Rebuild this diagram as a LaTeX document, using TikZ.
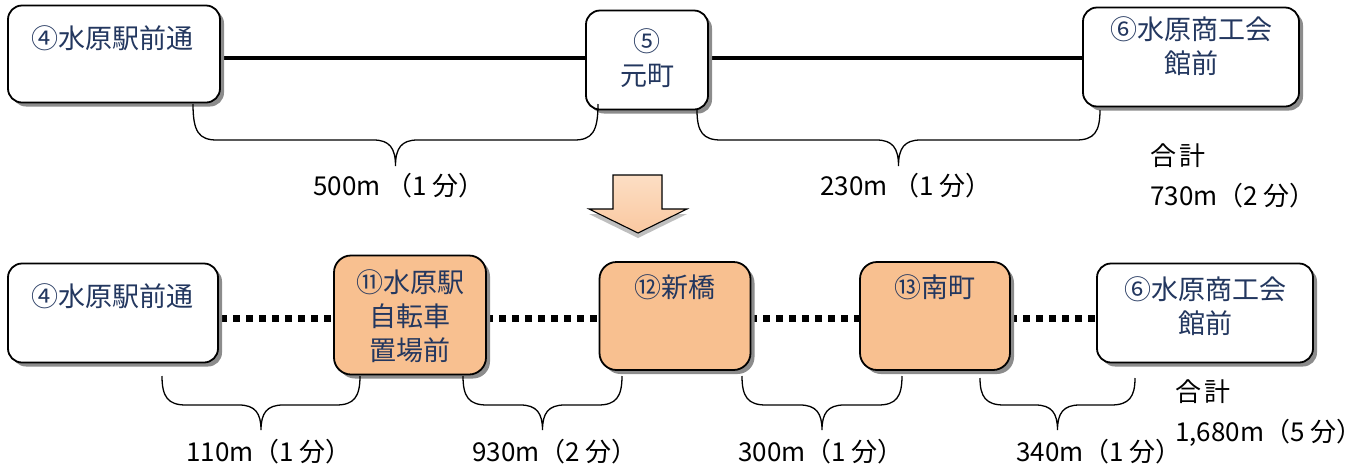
\documentclass[tikz,border=0pt]{standalone}
\usepackage{fontspec}
\setmainfont{Noto Sans CJK JP}
\usetikzlibrary{shadows}
\definecolor{navy}{RGB}{35,55,95}
\definecolor{peach}{RGB}{248,192,144}
\definecolor{arrowtop}{RGB}{252,222,196}
\definecolor{arrowbot}{RGB}{250,200,160}
\tikzset{
  stn/.style={draw=black, line width=1.8pt, rounded corners=14pt, fill=white,
    drop shadow={shadow xshift=4pt, shadow yshift=-4pt, fill=black!45, opacity=1}},
  orng/.style={stn, fill=peach, rounded corners=17pt},
  btxt/.style={text=navy, font=\fontsize{27}{34}\selectfont, align=center, inner sep=0pt},
  ltxt/.style={text=black, font=\fontsize{26}{30}\selectfont, inner sep=0pt, anchor=west},
  brc/.style={line width=1.3pt},
  solidln/.style={line width=3.5pt},
  dotln/.style={line width=7pt, dash pattern=on 7pt off 6pt}
}
\newcommand{\brc}[5]{% x1 x2 ytop yh ytip
  \pgfmathsetmacro{\xm}{(#1+#2)/2}
  \draw[brc] (#1,-#3) .. controls (#1,-#4+8) and (#1+6,-#4) .. (#1+24,-#4)
    -- (\xm-22,-#4) .. controls (\xm-6,-#4) and (\xm,-#4-8) .. (\xm,-#5)
    .. controls (\xm,-#4-8) and (\xm+6,-#4) .. (\xm+22,-#4)
    -- (#2-24,-#4) .. controls (#2-6,-#4) and (#2,-#4+8) .. (#2,-#3);}
\begin{document}
\begin{tikzpicture}[x=1pt,y=1pt]
\useasboundingbox (0,0) rectangle (1371,-475);
% top row lines
\coordinate (la) at (220,-58);
\coordinate (lb) at (586,-58);
\coordinate (lc) at (707,-58);
\coordinate (ld) at (1084,-58);
\draw[solidln] (la) -- (lb);
\draw[solidln] (lc) -- (ld);
% top row boxes
\node[stn, minimum width=212pt, minimum height=97pt] (A) at (114,-54) {};
\node[stn, minimum width=122pt, minimum height=99pt] (B) at (647,-60) {};
\node[stn, minimum width=216pt, minimum height=99pt] (C) at (1191,-57) {};
\node[btxt] (At) at (112,-38) {④水原駅前通};
\node[btxt] (Bt) at (647,-58) {⑤\\元町};
\node[btxt] (Ct) at (1191,-46) {⑥水原商工会\\館前};
% top braces
\brc{193}{598}{104}{140}{166}
\brc{697}{1100}{110}{140}{166}
\node[ltxt] (l1) at (313,-186) {500m （1 分）};
\node[ltxt] (l2) at (820,-186) {230m （1 分）};
\node[ltxt] (s1) at (1150,-156) {合\kern3pt 計};
\node[ltxt] (s2) at (1150,-196) {730m（2 分）};
% down arrow
\path[draw=black, line width=1.1pt, top color=arrowtop, bottom color=arrowbot,
  drop shadow={shadow xshift=0pt, shadow yshift=-5pt, fill=black!25, opacity=1}]
  (613,-175) -- (662,-175) -- (662,-209) -- (687,-209) -- (638,-233)
  -- (589,-209) -- (613,-209) -- cycle;
% bottom row lines
\draw[dotln] (220,-318) -- (334,-318);
\draw[dotln] (486,-318) -- (599,-318);
\draw[dotln] (750,-318) -- (860,-318);
\draw[dotln] (1010,-318) -- (1097,-318);
% bottom row boxes
\node[stn, minimum width=210pt, minimum height=99pt] (D) at (113,-313) {};
\node[orng, minimum width=152pt, minimum height=119pt] (E) at (410,-315) {};
\node[orng, minimum width=151pt, minimum height=108pt] (F) at (675,-316) {};
\node[orng, minimum width=150pt, minimum height=108pt] (G) at (935,-316) {};
\node[stn, minimum width=216pt, minimum height=99pt] (H) at (1205,-313) {};
\node[btxt] (Dt) at (112,-296) {④水原駅前通};
\node[btxt] (Et) at (410,-316) {⑪水原駅\\自転車\\置場前};
\node[btxt] (Ft) at (675,-287) {⑫新橋};
\node[btxt] (Gt) at (935,-287) {⑬南町};
\node[btxt] (Ht) at (1205,-306) {⑥水原商工会\\館前};
% bottom braces
\brc{162}{360}{376}{405}{430}
\brc{463}{622}{376}{405}{430}
\brc{742}{902}{376}{405}{430}
\brc{980}{1135}{378}{405}{430}
\node[ltxt] (m1) at (186,-452) {110m（1 分）};
\node[ltxt] (m2) at (472,-452) {930m（2 分）};
\node[ltxt] (m3) at (738,-452) {300m（1 分）};
\node[ltxt] (m4) at (1016,-452) {340m（1 分）};
\node[ltxt] (t1) at (1175,-392) {合\kern3pt 計};
\node[ltxt] (t2) at (1175,-433) {1,680m（5 分）};
\end{tikzpicture}
\end{document}
